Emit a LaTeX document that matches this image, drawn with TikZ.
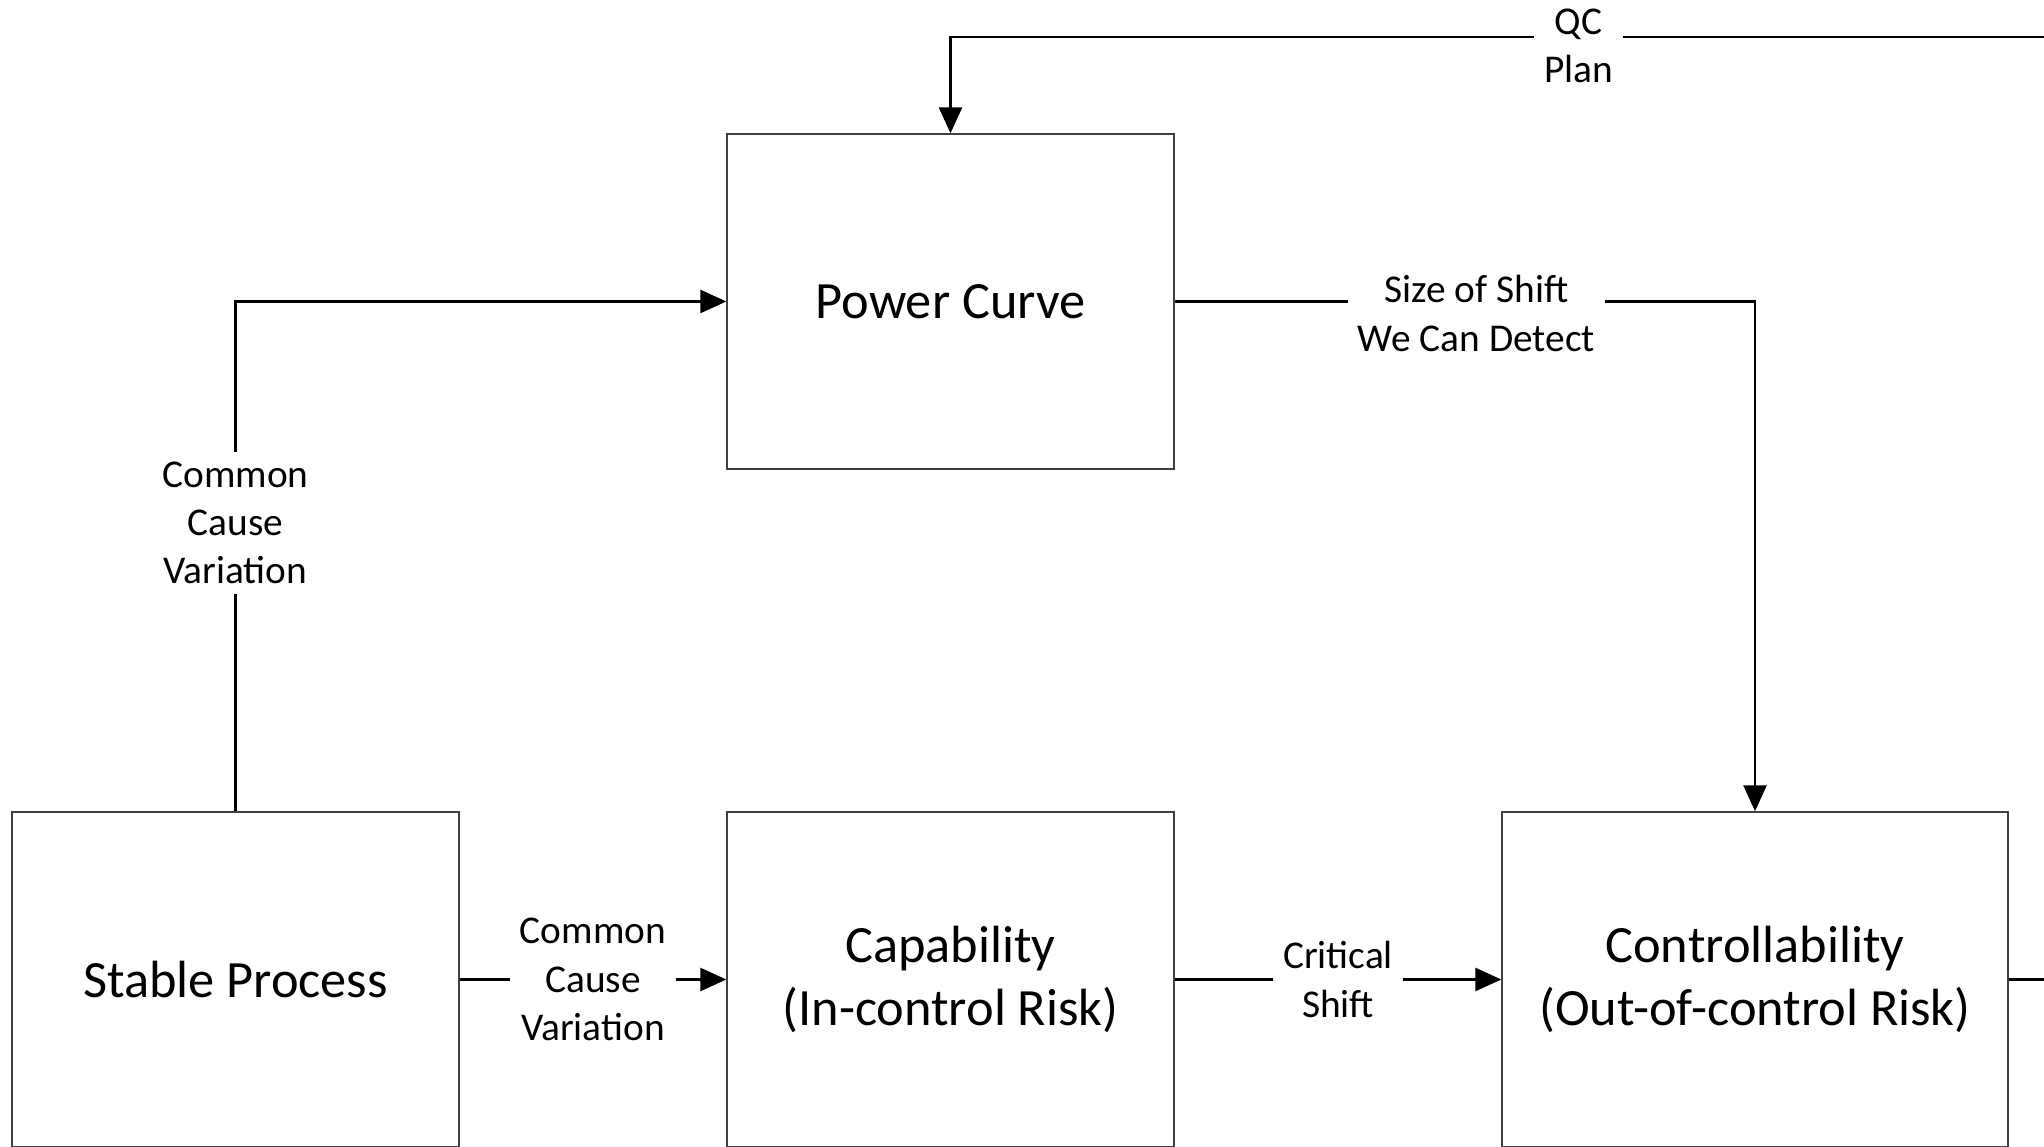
\documentclass[tikz,border=0pt]{standalone}
\usepackage{fontspec}
\setmainfont{Carlito}
\usetikzlibrary{arrows.meta}

\tikzset{
  box/.style={draw=black!75, line width=0.4pt, minimum width=4.47cm,
    minimum height=3.35cm, align=center, font=\fontsize{14.9}{17.9}\selectfont},
  lbl/.style={fill=white, inner sep=0.1cm, align=center,
    font=\fontsize{11.2}{13.7}\selectfont},
  link/.style={line width=0.75pt},
  flow/.style={link, -{Triangle[length=0.26cm,width=0.23cm]}},
}

\begin{document}
\begin{tikzpicture}
  \useasboundingbox (0,0) rectangle (20.44,11.46);

  % boxes
  \node[box] (power) at (9.505,8.445) {Power Curve};
  \node[box] (stable) at (2.355,1.665) {Stable Process};
  \node[box] (capab) at (9.505,1.665) {Capability\\(In-control Risk)};
  \node[box, minimum width=5.06cm] (ctrl) at (17.55,1.665)
    {Controllability\\(Out-of-control Risk)};

  % loose ends running off to the right
  \coordinate (qcin) at (20.6,11.09);
  \coordinate (ctrlout) at (20.6,1.665);

  % connectors
  \draw[flow] (stable.north) |- node[lbl, pos=0.283] {Common\\Cause\\Variation} (power.west);
  \draw[flow] (stable) -- node[lbl] {Common\\Cause\\Variation} (capab);
  \draw[flow] (capab) -- node[lbl] {Critical\\Shift} (ctrl);
  \draw[flow] (power.east) -| node[lbl, pos=0.26, yshift=-0.12cm] {Size of Shift\\We Can Detect} (ctrl.north);
  \draw[flow] (qcin) -| node[lbl, pos=0.217, yshift=-0.09cm] {QC\\Plan} (power.north);
  \draw[link] (ctrl) -- (ctrlout);
\end{tikzpicture}
\end{document}
